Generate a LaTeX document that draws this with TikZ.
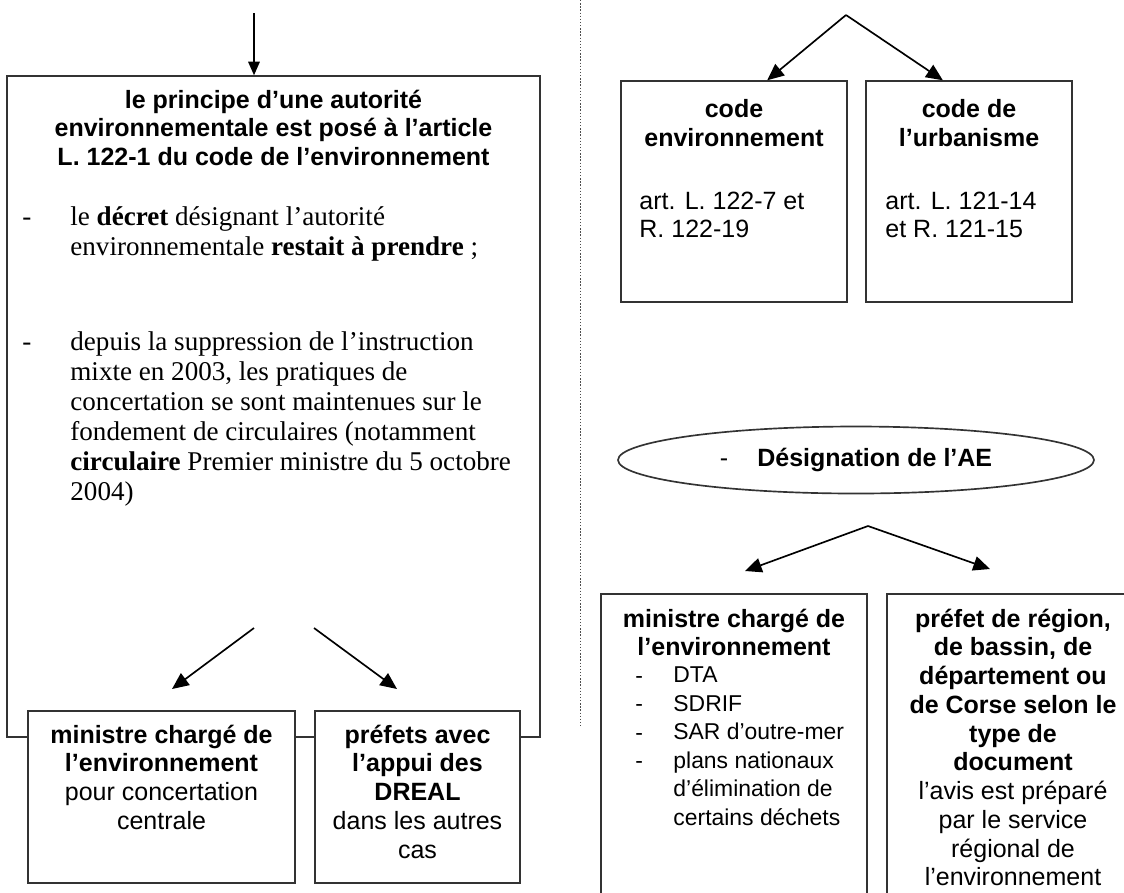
\documentclass[tikz,border=0pt]{standalone}
\usepackage{fontspec}
\setmainfont{Liberation Sans}
\newfontfamily\tnrfont{Liberation Serif}
\usetikzlibrary{arrows.meta,shapes.geometric,calc}
\newcommand{\pxu}{0.48pt}

\begin{document}
\begin{tikzpicture}[x=0.48pt,y=0.48pt,
	cadre/.style={draw=black!80,line width=0.7pt,fill=white},
	sans/.style={font=\fontsize{12}{13.8}\selectfont},
	sansgras/.style={font=\fontsize{12}{13.8}\selectfont\bfseries},
	liste/.style={font=\fontsize{11}{13.7}\selectfont},
	serif/.style={font=\tnrfont\fontsize{13}{14.4}\selectfont},
	fleche/.style={line width=0.8pt,-{Triangle[length=8pt,width=7pt]}}]
			\tikzstyle{every node}+=[inner sep=0pt]
			\useasboundingbox (0,0) rectangle (1124,-892);
			\clip (0,0) rectangle (1124,-892);
			% partie gauche (base = derniere ligne)
			\node [cadre,minimum width=533*\pxu,minimum height=661*\pxu] (principe) at (273.5,-406.5) {};
			\coordinate (haut) at (254,-13);
			\draw [line width=0.8pt,-{Triangle[length=6.5pt,width=5.5pt]}] (haut) -- (haut |- principe.north);
			\node [sansgras,align=center,anchor=base] (titre) at (273.5,-165.5) {le principe d’une autorité\\environnementale est posé à l’article\\L. 122-1 du code de l’environnement};
			\node [serif,anchor=base west] (tiretA) at (22,-225) {-};
			\node [serif,align=left,anchor=base west] (decret) at (70,-255) {le \textbf{décret} désignant l’autorité\\environnementale \textbf{restait à prendre} ;};
			\node [serif,anchor=base west] (tiretB) at (22,-350) {-};
			\node [serif,align=left,anchor=base west] (suppression) at (70,-500) {depuis la suppression de l’instruction\\mixte en 2003, les pratiques de\\concertation se sont maintenues sur le\\fondement de circulaires (notamment\\\textbf{circulaire} Premier ministre du 5 octobre\\2004)};
			\node [cadre,minimum width=267*\pxu,minimum height=172*\pxu] (ministreG) at (161.5,-797) {};
			\node [cadre,minimum width=205*\pxu,minimum height=172*\pxu] (prefetsG) at (417.5,-797) {};
			\coordinate (departMin) at (254,-628);
			\coordinate (departPref) at (314,-628);
			\coordinate (pointeMin) at (172,-689);
			\coordinate (pointePref) at (397,-689);
			\draw [fleche] (departMin) -- (pointeMin);
			\draw [fleche] (departPref) -- (pointePref);
			\node [sans,align=center,anchor=base] (ministreGtxt) at (161.5,-829.25) {\textbf{ministre chargé de}\\\textbf{l’environnement}\\pour concertation\\centrale};
			\node [sans,align=center,anchor=base] (prefetsGtxt) at (417.5,-858) {\textbf{préfets avec}\\\textbf{l’appui des}\\\textbf{DREAL}\\dans les autres\\cas};
			% separation
			\draw [black!70,line width=0.7pt,dash pattern=on 0.7pt off 0.8pt] (580.7,0) -- (580.7,-726);
			% partie droite
			\node [cadre,minimum width=226*\pxu,minimum height=221*\pxu] (codeEnv) at (734,-191.5) {};
			\node [cadre,minimum width=206*\pxu,minimum height=221*\pxu] (codeUrb) at (969,-191.5) {};
			\coordinate (sommet) at (846,-15);
			\draw [fleche] (sommet) -- ($(codeEnv.north west)!0.646!(codeEnv.north east)$);
			\draw [fleche] (sommet) -- ($(codeUrb.north west)!0.374!(codeUrb.north east)$);
			\node [sansgras,align=center,anchor=base] (codeEnvTitre) at (734,-146.5) {code\\environnement};
			\node [sans,align=left,anchor=base west] (codeEnvArt) at (639,-237.75) {art. L. 122-7 et\\R. 122-19};
			\node [sansgras,align=center,anchor=base] (codeUrbTitre) at (969,-146.5) {code de\\l’urbanisme};
			\node [sans,align=left,anchor=base west] (codeUrbArt) at (885,-237.75) {art. L. 121-14\\et R. 121-15};
			\node [draw=black!80,line width=0.8pt,ellipse,sans,minimum width=476*\pxu,minimum height=67*\pxu] (designation) at (856,-460) {-\hspace{14pt}\textbf{Désignation de l’AE}\hspace{9pt}};
			\coordinate (sommetAE) at (868,-526);
			\coordinate (pointeMinD) at (745,-571);
			\coordinate (pointePrefD) at (990,-569);
			\draw [fleche] (sommetAE) -- (pointeMinD);
			\draw [fleche] (sommetAE) -- (pointePrefD);
			\node [cadre,minimum width=266*\pxu,minimum height=340*\pxu] (ministreD) at (734,-764) {};
			\node [cadre,minimum width=252*\pxu,minimum height=340*\pxu] (prefetD) at (1013,-764) {};
			\node [sansgras,align=center,anchor=base] (ministreDtitre) at (734,-655.75) {ministre chargé de\\l’environnement};
			\foreach \y [count=\i] in {683,711.5,740,768.5}
				\node [liste,anchor=base west] (tiretD\i) at (635,-\y) {-};
			\node [liste,align=left,anchor=base west] (listeD) at (673,-825.5) {DTA\\SDRIF\\SAR d’outre-mer\\plans nationaux\\d’élimination de\\certains déchets};
			\node [sans,align=center,anchor=base] (prefetDtxt) at (1013,-885.75) {\textbf{préfet de région,}\\\textbf{de bassin, de}\\\textbf{département ou}\\\textbf{de Corse selon le}\\\textbf{type de}\\\textbf{document}\\l’avis est préparé\\par le service\\régional de\\l’environnement};
		\end{tikzpicture}
\end{document}
